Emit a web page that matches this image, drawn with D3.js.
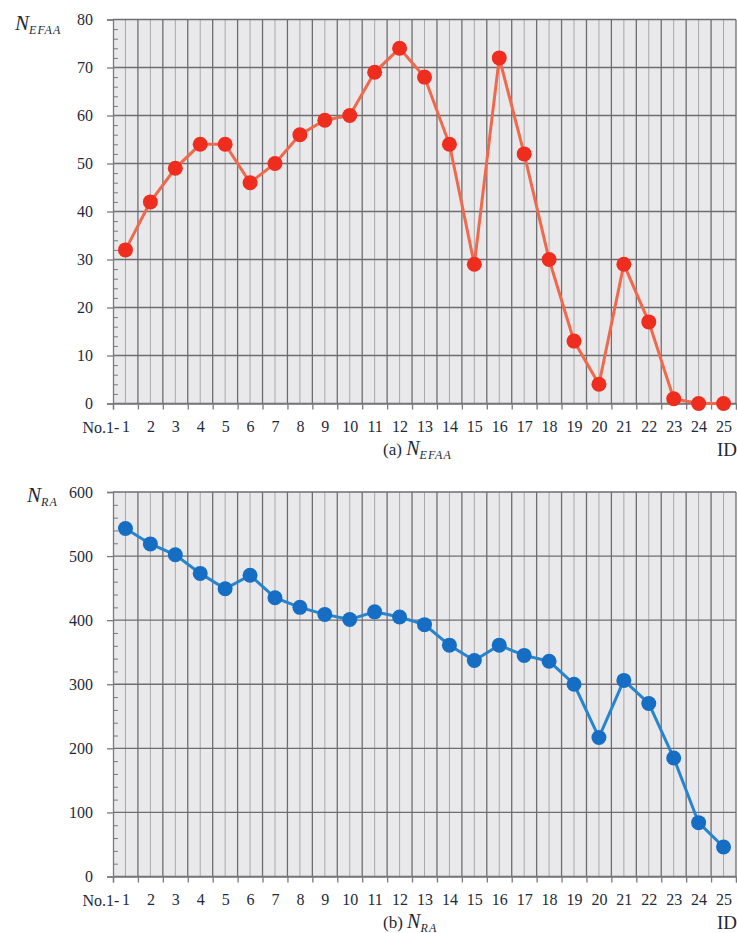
<!DOCTYPE html>
<html>
<head>
<meta charset="utf-8">
<script src="https://cdn.jsdelivr.net/npm/d3@7"></script>
<style>
  html, body { margin: 0; padding: 0; background: #fff; }
  svg text { font-family: "Liberation Serif", "Times New Roman", Times, "DejaVu Serif", serif !important; fill: #1e2a38; }
</style>
</head>
<body>
<svg id="chart" width="737" height="933"></svg>
<script>
// Sample IDs along the x axis
const ids = d3.range(1, 26);

// (a) number of EFAA per sample
const nEFAA = [32, 42, 49, 54, 54, 46, 50, 56, 59, 60, 69, 74, 68, 54, 29, 72, 52, 30, 13, 4, 29, 17, 1, 0, 0];

// (b) number of RA per sample
const nRA = [543, 519, 502, 473, 449, 470, 435, 420, 409, 401, 413, 405, 393, 361, 337, 361, 345, 336, 300, 217, 306, 270, 185, 84, 46];

// Axis tick values
const ticksEFAA = [0, 10, 20, 30, 40, 50, 60, 70, 80];
const ticksRA = [0, 100, 200, 300, 400, 500, 600];

const svg = d3.select("#chart");
const FONT = "'Liberation Serif', 'Times New Roman', Times, 'DejaVu Serif', serif";

function panel(cfg) {
  const g = svg.append("g").style("font-family", FONT);
  const left = 113, right = 736;
  const x = d3.scaleLinear().domain([0, ids.length]).range([left, right]);
  const cx = id => x(id - 0.5);
  const y = d3.scaleLinear().domain([0, cfg.max]).range([cfg.bottom, cfg.top]);

  // plot background
  g.append("rect")
    .attr("x", left).attr("y", cfg.top)
    .attr("width", right - left).attr("height", cfg.bottom - cfg.top)
    .attr("fill", "#e9e9eb");

  // light vertical lines through each sample
  g.selectAll(".vmid").data(ids).join("line")
    .attr("x1", d => cx(d)).attr("x2", d => cx(d))
    .attr("y1", cfg.top).attr("y2", cfg.bottom)
    .attr("stroke", "#a8a8ab").attr("stroke-width", 1);

  // dark vertical lines between samples
  g.selectAll(".vsep").data(d3.range(1, ids.length + 1)).join("line")
    .attr("x1", d => x(d)).attr("x2", d => x(d))
    .attr("y1", cfg.top).attr("y2", cfg.bottom)
    .attr("stroke", "#6e6e70").attr("stroke-width", 1.3);

  // horizontal grid lines at major ticks
  g.selectAll(".hgrid").data(cfg.ticks).join("line")
    .attr("x1", left).attr("x2", right)
    .attr("y1", d => y(d)).attr("y2", d => y(d))
    .attr("stroke", "#6e6e70").attr("stroke-width", 1.3);

  // y axis: major ticks outward with labels
  const yAxis = g.append("g")
    .attr("transform", `translate(${left},0)`)
    .call(d3.axisLeft(y).tickValues(cfg.ticks).tickSize(6).tickPadding(14).tickFormat(d3.format("d")));
  yAxis.attr("font-family", null).attr("font-size", 16);
  yAxis.select(".domain").attr("stroke", "#7a7a7c").attr("stroke-width", 1.3);
  yAxis.selectAll(".tick line").attr("stroke", "#7a7a7c").attr("stroke-width", 1.3);
  yAxis.selectAll("text").attr("fill", "#1e2a38");

  // y axis: minor ticks inward
  const minor = d3.range(0, cfg.max + 1e-9, cfg.minorStep).filter(v => !cfg.ticks.includes(v));
  const yMinor = g.append("g")
    .attr("transform", `translate(${left},0)`)
    .call(d3.axisRight(y).tickValues(minor).tickSize(5).tickFormat(""));
  yMinor.select(".domain").remove();
  yMinor.selectAll(".tick line").attr("stroke", "#7a7a7c").attr("stroke-width", 1);

  // x axis: boundary ticks
  const xAxis = g.append("g")
    .attr("transform", `translate(0,${cfg.bottom})`)
    .call(d3.axisBottom(x).tickValues(d3.range(0, ids.length + 1)).tickSize(6).tickFormat(""));
  xAxis.select(".domain").attr("stroke", "#7a7a7c").attr("stroke-width", 1.3);
  xAxis.selectAll(".tick line").attr("stroke", "#7a7a7c").attr("stroke-width", 1.3);

  // x axis: sample labels under each sample
  const xLabels = g.append("g")
    .attr("transform", `translate(0,${cfg.bottom})`)
    .call(d3.axisBottom(x).tickValues(ids.map(d => d - 0.5)).tickSize(0).tickPadding(17)
      .tickFormat(d => String(Math.round(d + 0.5))));
  xLabels.attr("font-family", null).attr("font-size", 16);
  xLabels.select(".domain").remove();
  xLabels.selectAll("text").attr("fill", "#1e2a38");

  g.append("text")
    .attr("x", cx(1) - 6).attr("y", cfg.bottom + 29)
    .attr("text-anchor", "end").attr("font-size", 16)
    .text("No.1-");

  g.append("text")
    .attr("x", 737).attr("y", cfg.bottom + 52)
    .attr("text-anchor", "end").attr("font-size", 19)
    .text("ID");

  // series line and markers
  const line = d3.line().x((d, i) => cx(ids[i])).y(d => y(d));
  g.append("path").datum(cfg.values)
    .attr("d", line).attr("fill", "none")
    .attr("stroke", cfg.lineColor).attr("stroke-width", 3);
  g.selectAll(".pt").data(cfg.values).join("circle")
    .attr("cx", (d, i) => cx(ids[i])).attr("cy", d => y(d))
    .attr("r", 7.5).attr("fill", cfg.markColor);

  // y label (N with subscript)
  const yl = g.append("text").attr("x", cfg.labelX).attr("y", cfg.top + 10);
  yl.append("tspan").attr("font-style", "italic").attr("font-size", 21).text("N");
  yl.append("tspan").attr("font-style", "italic").attr("font-size", 12)
    .attr("letter-spacing", 1.2).attr("dy", 4).text(cfg.sub);

  // caption
  const cap = g.append("text").attr("x", 383).attr("y", cfg.bottom + 51);
  cap.append("tspan").attr("font-size", 17).text(cfg.capPrefix + " ");
  cap.append("tspan").attr("font-style", "italic").attr("font-size", 20).text("N");
  cap.append("tspan").attr("font-style", "italic").attr("font-size", 12)
    .attr("letter-spacing", 1.2).attr("dy", 4).text(cfg.sub);
}

panel({
  values: nEFAA, ticks: ticksEFAA, max: 80, minorStep: 2,
  top: 19.5, bottom: 403.5,
  lineColor: "#f0694c", markColor: "#ef2d1f",
  sub: "EFAA", labelX: 15, capPrefix: "(a)"
});

panel({
  values: nRA, ticks: ticksRA, max: 600, minorStep: 20,
  top: 492, bottom: 876.5,
  lineColor: "#2784cf", markColor: "#166ec4",
  sub: "RA", labelX: 27, capPrefix: "(b)"
});
</script>
</body>
</html>
